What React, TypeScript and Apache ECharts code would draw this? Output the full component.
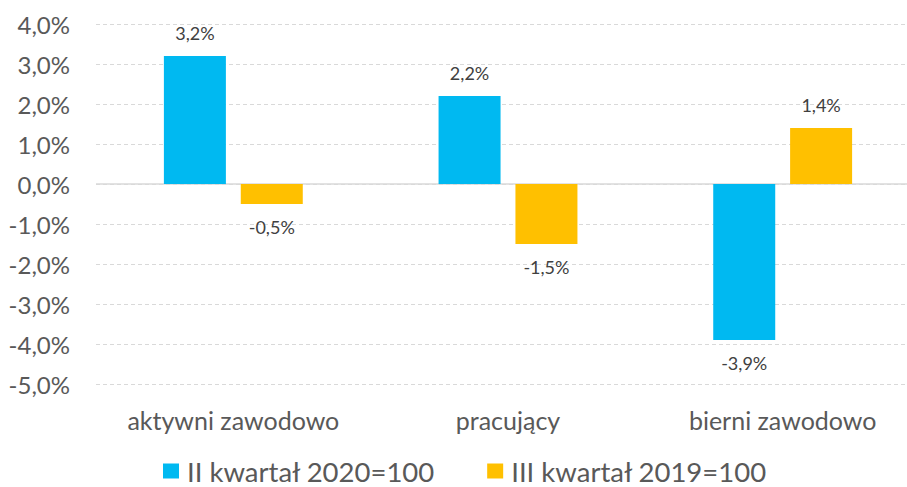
import React, { useEffect, useRef } from "react";
import * as echarts from "echarts";

const categories = ["aktywni zawodowo", "pracujący", "bierni zawodowo"];
const seriesNames = ["II kwartał 2020=100", "III kwartał 2019=100"];
const q2Values = [3.2, 2.2, -3.9];
const q3Values = [-0.5, -1.5, 1.4];
const colors = ["#00B9F1", "#FFC000"];

const fmt = (v: number) => v.toFixed(1).replace(".", ",") + "%";

const toData = (arr: number[]) =>
  arr.map((v) => ({
    value: v,
    label: { position: v < 0 ? "bottom" : "top" },
  }));

export default function App() {
  const ref = useRef<HTMLDivElement>(null);
  useEffect(() => {
    if (!ref.current) return;
    const chart = echarts.init(ref.current, null, { renderer: "svg" });
    const font = "Lato, 'Open Sans', sans-serif";
    const labelCommon = {
      show: true,
      distance: 14,
      color: "#404040",
      fontSize: 18,
      fontFamily: font,
      formatter: (p: any) => fmt(p.value),
    };
    chart.setOption({
      animation: false,
      backgroundColor: "#ffffff",
      textStyle: { fontFamily: font },
      grid: { left: 96, right: 0, top: 24, bottom: 103, containLabel: false },
      legend: {
        top: 457,
        left: 163,
        itemWidth: 16,
        itemHeight: 15,
        itemGap: 52,
        icon: "rect",
        padding: 0,
        textStyle: {
          fontSize: 27.5,
          lineHeight: 26,
          color: "#595959",
          fontFamily: font,
          padding: [0, 0, 0, 3],
        },
        data: seriesNames,
      },
      xAxis: {
        type: "category",
        data: categories,
        axisLine: { show: false, onZero: false },
        axisTick: { show: false },
        axisLabel: { color: "#595959", fontSize: 25, margin: 23, fontFamily: font, interval: 0 },
      },
      yAxis: {
        type: "value",
        min: -5,
        max: 4,
        interval: 1,
        axisLine: { show: false },
        axisTick: { show: false },
        axisLabel: {
          color: "#595959",
          fontSize: 24,
          margin: 26,
          fontFamily: font,
          formatter: (v: number) => fmt(v),
        },
        splitLine: { lineStyle: { color: "#D9D9D9", type: [4, 3], width: 1 } },
      },
      series: [
        {
          name: seriesNames[0],
          type: "bar",
          data: toData(q2Values),
          barWidth: 62,
          barGap: "24%",
          itemStyle: { color: colors[0] },
          label: labelCommon,
          markLine: {
            silent: true,
            symbol: "none",
            label: { show: false },
            lineStyle: { color: "#D9D9D9", type: "solid", width: 1.5 },
            data: [{ yAxis: 0 }],
            z: 1,
          },
        },
        {
          name: seriesNames[1],
          type: "bar",
          data: toData(q3Values),
          barWidth: 62,
          barGap: "24%",
          itemStyle: { color: colors[1] },
          label: labelCommon,
        },
      ],
    });
    return () => chart.dispose();
  }, []);
  return (
    <div
      style={{
        position: "absolute",
        left: 0,
        top: 0,
        width: 907,
        height: 487,
        overflow: "hidden",
        background: "#fff",
      }}
    >
      <div ref={ref} style={{ width: 920, height: 487 }} />
    </div>
  );
}
